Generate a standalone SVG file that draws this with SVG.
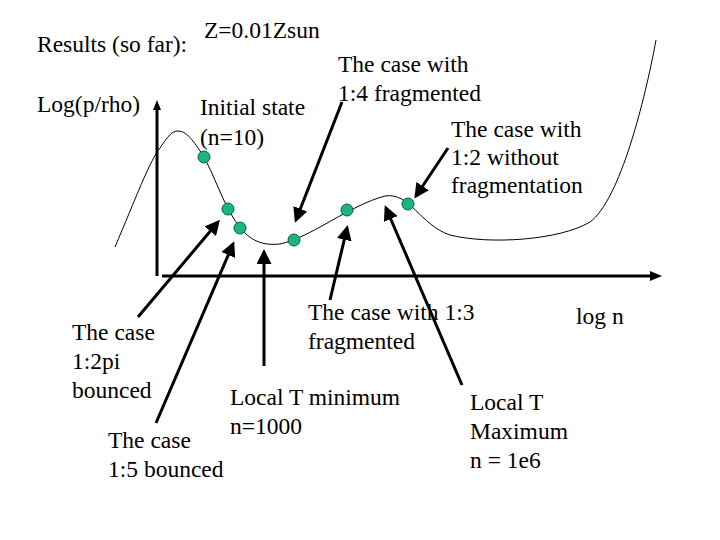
<svg xmlns="http://www.w3.org/2000/svg" width="720" height="540" viewBox="0 0 720 540">
<style>
text{font-family:"Liberation Serif",serif;font-size:23.5px;fill:#000}
.a{stroke:#000;stroke-width:3;fill:none;marker-end:url(#h)}
.d{fill:#1ab486;stroke:#0a5a40;stroke-width:1}
</style>
<defs><marker id="h" markerWidth="5" markerHeight="5" refX="4" refY="2.5" orient="auto"><path d="M0,0L5,2.5L0,5z" fill="#000"/></marker></defs>
<rect width="720" height="540" fill="#fff"/>
<g id="axes">
<line x1="157" y1="108" x2="157" y2="276" stroke="#000" stroke-width="3"/>
<path d="M153,110L157,100L161,110z"/>
<line x1="162" y1="276" x2="655" y2="276" stroke="#000" stroke-width="3"/>
<path d="M650,271L662,276L650,281z"/>
</g>
<g id="curve"><path d="M115,247 C135,200 150,160 160,148 C168,136 172,131 178,131 C188,131 196,145 204,157 C214,175 220,195 230,212 C245,240 260,246 280,244 C310,238 350,205 385,196 C410,192 420,225 450,235 C490,245 560,240 590,222 C620,200 645,100 656,40" fill="none" stroke="#000" stroke-width="1"/></g>
<g id="dots">
<circle class="d" cx="204" cy="157" r="6"/><circle class="d" cx="228" cy="209" r="6"/><circle class="d" cx="240" cy="228" r="6"/><circle class="d" cx="294" cy="240" r="6"/><circle class="d" cx="347" cy="210" r="6"/><circle class="d" cx="408" cy="204" r="6"/>
</g>
<g id="connectors">
<line class="a" x1="138" y1="317" x2="218" y2="222"/>
<line class="a" x1="156" y1="423" x2="233" y2="244"/>
<line class="a" x1="264" y1="366" x2="264" y2="252"/>
<line class="a" x1="330" y1="300" x2="347" y2="228"/>
<line class="a" x1="462" y1="385" x2="386" y2="208"/>
<line class="a" x1="342" y1="102" x2="296" y2="220"/>
<line class="a" x1="448" y1="148" x2="416" y2="196"/>
</g>
<g id="labels">
<text x="37" y="52">Results (so far):</text>
<text x="204" y="38">Z=0.01Zsun</text>
<text x="37" y="112">Log(p/rho)</text>
<text x="200" y="115">Initial state</text><text x="200" y="145">(n=10)</text>
<text x="338" y="72">The case with</text><text x="338" y="101">1:4 fragmented</text>
<text x="451" y="137">The case with</text><text x="451" y="165">1:2 without</text><text x="451" y="193">fragmentation</text>
<text x="308" y="320">The case with 1:3</text><text x="308" y="349">fragmented</text>
<text x="576" y="324">log n</text>
<text x="72" y="340">The case</text><text x="72" y="369">1:2pi</text><text x="72" y="398">bounced</text>
<text x="230" y="405">Local T minimum</text><text x="230" y="434">n=1000</text>
<text x="108" y="448">The case</text><text x="108" y="477">1:5 bounced</text>
<text x="470" y="410">Local T</text><text x="470" y="439">Maximum</text><text x="470" y="468">n = 1e6</text>
</g>
</svg>
